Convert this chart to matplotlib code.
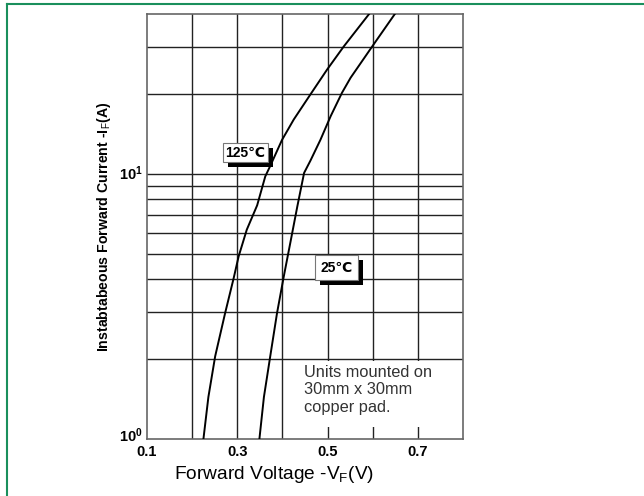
import numpy as np
import matplotlib.pyplot as plt
from matplotlib.patches import Rectangle
import matplotlib.patheffects as pe

plt.rcParams['font.family'] = ['Liberation Sans', 'DejaVu Sans']
plt.rcParams['mathtext.fontset'] = 'custom'
plt.rcParams['mathtext.rm'] = 'Liberation Sans'
plt.rcParams['mathtext.bf'] = 'Liberation Sans:bold'

# curves
v_125 = [0.225, 0.236, 0.251, 0.273, 0.292, 0.303, 0.321, 0.344, 0.362, 0.373, 0.399, 0.425, 0.462, 0.499, 0.536, 0.592]
i_125 = [1.0, 1.44, 2.05, 2.98, 4.04, 4.88, 6.15, 7.6, 9.77, 10.7, 13.4, 16.0, 19.9, 24.7, 30.2, 40.0]
v_25 = [0.349, 0.359, 0.373, 0.388, 0.403, 0.418, 0.433, 0.448, 0.462, 0.484, 0.507, 0.532, 0.551, 0.599, 0.649]
i_25 = [1.0, 1.44, 2.05, 2.98, 4.1, 5.55, 7.53, 10.07, 11.2, 13.4, 16.5, 20.2, 23.0, 30.2, 40.0]

x_grid = [0.2, 0.3, 0.4, 0.5, 0.6, 0.7]
y_grid = [2, 3, 4, 5, 6, 7, 8, 9, 10, 20, 30]
x_ticks = [0.1, 0.3, 0.5, 0.7]
x_ticklabels = ['0.1', '0.3', '0.5', '0.7']
y_ticks = [1, 10]
y_ticklabels = [r'$\mathbf{10^{0}}$', r'$\mathbf{10^{1}}$']

fig = plt.figure(figsize=(6.44, 4.96), dpi=100)
ax = fig.add_axes([147/644, 57/496, 316/644, 425/496])

# green frame round the picture
fig.add_artist(plt.Line2D([7/644, 1], [1 - 4/496, 1 - 4/496], color='#1a8f5c', lw=1.5))
fig.add_artist(plt.Line2D([7/644, 7/644], [0, 1 - 4/496], color='#1a8f5c', lw=1.5))

ax.set_yscale('log')
ax.set_xlim(0.1, 0.8)
ax.set_ylim(1, 40)

for x in x_grid:
    ax.axvline(x, color='#222222', lw=1.0, zorder=1)
for y in y_grid:
    ax.axhline(y, color='#222222', lw=1.0, zorder=1)

ax.add_patch(Rectangle((0.422, 1.11), 0.372, 0.86, facecolor='white', edgecolor='none', zorder=2))
ax.text(0.4467, 1.9, 'Units mounted on\n30mm x 30mm\ncopper pad.', fontsize=11.8,
        color='#333333', va='top', ha='left', linespacing=1.2, zorder=3)

ax.plot(v_125, i_125, color='black', lw=1.4, zorder=4)
ax.plot(v_25, i_25, color='black', lw=1.4, zorder=4)

shadow = [pe.withSimplePatchShadow(offset=(3.5, -3.5), shadow_rgbFace='black', alpha=1.0)]
t1 = ax.text(0.318, 12.0, '125℃', fontsize=10, fontweight='bold', ha='center', va='center', zorder=5,
             bbox=dict(boxstyle='square,pad=0.2', facecolor='white', edgecolor='#777777', lw=0.8))
t2 = ax.text(0.52, 4.42, '25℃', fontsize=10, fontweight='bold', ha='center', va='center', zorder=5,
             bbox=dict(boxstyle='square,pad=0.4', facecolor='white', edgecolor='#777777', lw=0.8))
t1.get_bbox_patch().set_path_effects(shadow)
t2.get_bbox_patch().set_path_effects(shadow)

ax.set_xticks(x_ticks)
ax.set_xticklabels(x_ticklabels, fontweight='bold', fontsize=10.5)
ax.set_yticks(y_ticks)
ax.set_yticklabels([])
ax.minorticks_off()
ax.tick_params(axis='x', length=0, pad=4)
ax.tick_params(axis='y', length=0)

# y tick labels placed by hand, the bottom one lifted a little as in the original
trans = ax.get_yaxis_transform()
ax.text(-0.013, y_ticks[0] * 1.03, y_ticklabels[0], transform=trans, fontsize=10.5,
        ha='right', va='center')
ax.text(-0.013, y_ticks[1], y_ticklabels[1], transform=trans, fontsize=10.5,
        ha='right', va='center')

for s in ax.spines.values():
    s.set_color('#666666')
    s.set_linewidth(1.2)

ax.set_xlabel(r'Forward Voltage -V$_{\rm F}$(V)', fontsize=13.8)
ax.xaxis.set_label_coords((274.5 - 147) / 316, -0.058)
ax.set_ylabel(r'Instabtabeous Forward Current -I$_{\rm F}$(A)', fontsize=10.2, fontweight='bold')
ax.yaxis.set_label_coords((113 - 147) / 316, 0.5)

fig.savefig('out.png', dpi=100)
